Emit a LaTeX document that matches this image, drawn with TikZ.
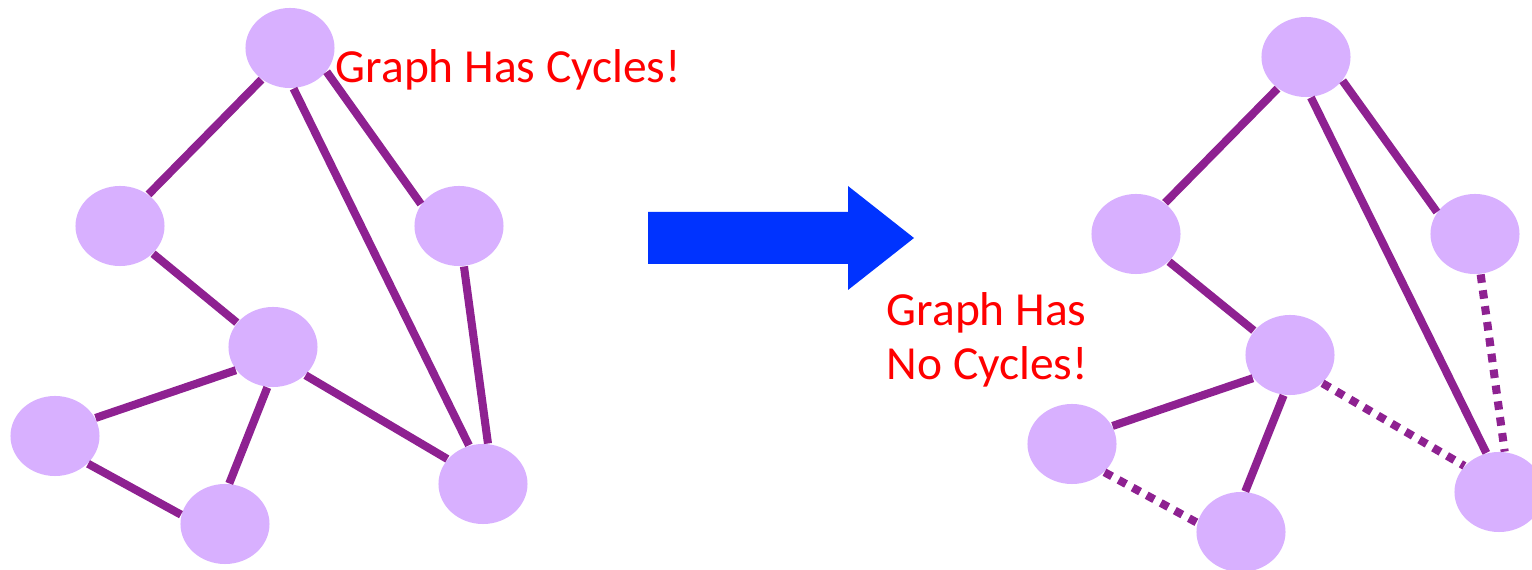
\documentclass[tikz,border=0pt]{standalone}
\usepackage{xcolor}
\usepackage{fontspec}
\setmainfont{Carlito}
\usepackage{tikz}
\usetikzlibrary{shapes.geometric, arrows.meta, positioning}
\definecolor{lilac}{HTML}{D8B0FF}
\definecolor{plum}{HTML}{8E2191}
\definecolor{bolt}{HTML}{0033FF}

\begin{document}
\begin{tikzpicture}[
    x=0.01cm, y=-0.01cm,
    vert/.style={ellipse, fill=lilac, draw=none, inner sep=0pt, minimum width=0.89cm, minimum height=0.80cm},
    solidlink/.style={draw=plum, line width=2.3pt},
    droplink/.style={draw=plum, line width=2.3pt, dash pattern=on 0.085cm off 0.075cm},
    note/.style={font=\fontsize{13.5}{15.6}\selectfont, text=red, inner sep=0pt, align=left},
  ]
  \useasboundingbox (0,0) rectangle (1532,570);

  % Graph 1: with cycles
  \node[vert] (top) at (290,48) {};
  \node[vert] (left) at (120,226) {};
  \node[vert] (right) at (459,226) {};
  \node[vert] (mid) at (273,347) {};
  \node[vert] (farleft) at (55,436) {};
  \node[vert] (bottom) at (225,524) {};
  \node[vert] (botright) at (483,484) {};
  \node[note, anchor=base west] (cyc) at (335,83) {Graph Has Cycles!};

  \draw[solidlink] (top.228) -- (left.48);
  \draw[solidlink] (top.-33) -- (right.150);
  \draw[solidlink] (top.-85) -- (botright.110);
  \draw[solidlink] (left.-40) -- (mid.146);
  \draw[solidlink] (right.-83) -- (botright.83);
  \draw[solidlink] (mid.212) -- (farleft.24);
  \draw[solidlink] (mid.262) -- (bottom.84);
  \draw[solidlink] (mid.-41) -- (botright.145);
  \draw[solidlink] (farleft.-40) -- (bottom.168);

  % Block arrow
  \fill[bolt] (648,212) -- (848,212) -- (848,186) -- (914,238) -- (848,290)
    -- (848,264) -- (648,264) -- cycle;

  % Graph 2: cycles cut
  \node[vert] (top2) at (1306,57) {};
  \node[vert] (left2) at (1136,234) {};
  \node[vert] (right2) at (1475,234) {};
  \node[vert] (mid2) at (1290,355) {};
  \node[vert] (farleft2) at (1072,444) {};
  \node[vert] (bottom2) at (1241,532) {};
  \node[vert] (botright2) at (1499,492) {};
  \node[note, anchor=base west] (nocyc) at (886,380) {Graph Has\\No Cycles!};

  \draw[solidlink] (top2.228) -- (left2.47);
  \draw[solidlink] (top2.-33) -- (right2.150);
  \draw[solidlink] (top2.-83) -- (botright2.108);
  \draw[solidlink] (left2.-40) -- (mid2.146);
  \draw[droplink] (right2.-82) -- (botright2.82);
  \draw[solidlink] (mid2.212) -- (farleft2.24);
  \draw[solidlink] (mid2.261) -- (bottom2.84);
  \draw[droplink] (mid2.-41) -- (botright2.143);
  \draw[droplink] (farleft2.-41) -- (bottom2.168);
\end{tikzpicture}
\end{document}
